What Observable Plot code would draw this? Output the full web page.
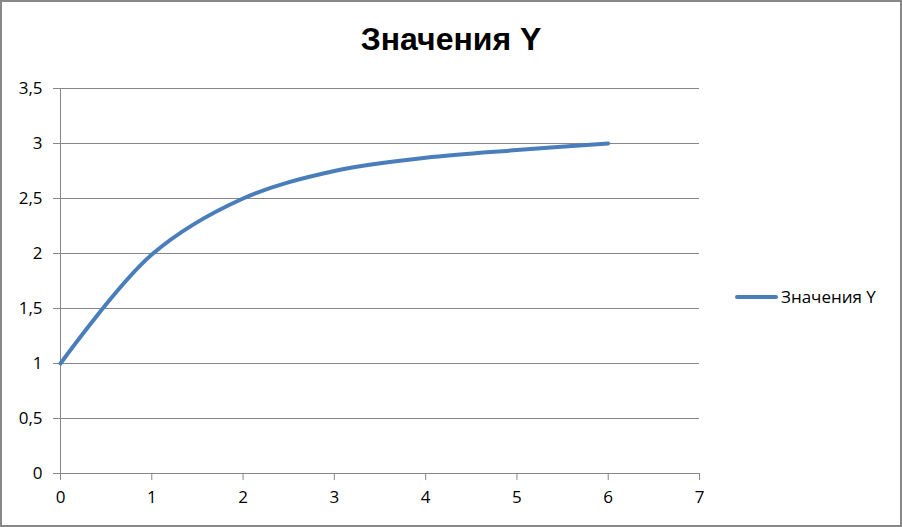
<!DOCTYPE html>
<html>
<head>
<meta charset="utf-8">
<script src="https://cdn.jsdelivr.net/npm/d3@7"></script>
<script src="https://cdn.jsdelivr.net/npm/@observablehq/plot@0.6"></script>
<style>
  html, body { margin: 0; padding: 0; background: #fff; }
  #chart { position: relative; width: 902px; height: 527px; box-sizing: border-box; border: 2px solid #888; background: #fff; overflow: hidden; font-family: "Open Sans", sans-serif; }
  #title { position: absolute; left: 0; width: 898px; top: 19px; text-align: center; font-family: "Liberation Sans", Arial, sans-serif; font-size: 32px; font-weight: bold; color: #000; }
  #plot { position: absolute; left: -2px; top: -2px; }
  #legend { position: absolute; left: 733px; top: 283px; display: flex; align-items: center; font-size: 17px; color: #000; }
  #legend .sw { width: 43px; height: 4px; background: #4a7ebb; border-radius: 2px; margin-right: 3px; }
</style>
</head>
<body>
<div id="chart">
  <div id="title">Значения Y</div>
  <div id="plot"></div>
  <div id="legend"><span class="sw"></span><span id="legendLabel"></span></div>
</div>
<script>
const seriesName = "Значения Y";
const xValues = [0, 1, 2, 3, 4, 5, 6];
const yValues = [1, 1.99, 2.5, 2.75, 2.87, 2.94, 3];
const yTicks = [0, 0.5, 1, 1.5, 2, 2.5, 3, 3.5];
const yTickLabels = ["0", "0,5", "1", "1,5", "2", "2,5", "3", "3,5"];
const xTicks = [0, 1, 2, 3, 4, 5, 6, 7];
const xTickLabels = ["0", "1", "2", "3", "4", "5", "6", "7"];

const data = xValues.map((x, i) => ({x, y: yValues[i]}));
const gridColor = "#878787";
const lineColor = "#4a7ebb";

const chart = Plot.plot({
  width: 720,
  height: 527,
  marginLeft: 60,
  marginRight: 21,
  marginTop: 88,
  marginBottom: 54,
  style: {fontSize: "17px", fontFamily: "'Open Sans', sans-serif", color: "#000", background: "transparent"},
  x: {domain: [0, 7]},
  y: {domain: [0, 3.5]},
  marks: [
    Plot.gridY(yTicks, {stroke: gridColor, strokeOpacity: 1}),
    Plot.ruleX([0], {y1: 0, y2: 3.5, stroke: gridColor}),
    Plot.axisY({ticks: yTicks, tickSize: 7, tickPadding: 11, stroke: gridColor, fill: "#000", label: null,
      tickFormat: d => yTickLabels[yTicks.indexOf(d)]}),
    Plot.axisX({ticks: xTicks, tickSize: 7, tickPadding: 10, stroke: gridColor, fill: "#000", label: null,
      tickFormat: d => xTickLabels[xTicks.indexOf(d)]}),
    Plot.line(data, {x: "x", y: "y", stroke: lineColor, strokeWidth: 4, curve: "catmull-rom", strokeLinecap: "round"})
  ]
});
document.getElementById("plot").appendChild(chart);
document.getElementById("legendLabel").textContent = seriesName;
</script>
</body>
</html>
